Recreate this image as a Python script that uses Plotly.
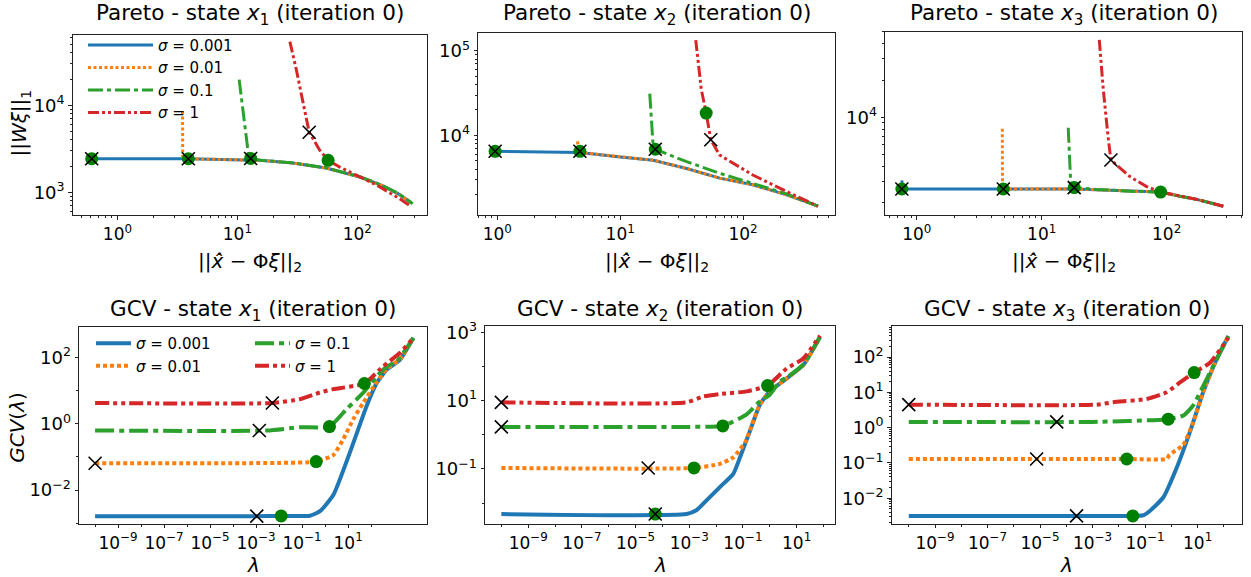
import plotly.graph_objects as go

W, H = 1251, 577
FONT = "DejaVu Sans"
COLORS = ["#1f77b4", "#ff7f0e", "#2ca02c", "#d62728"]
SIGMA_LABELS = ["<i>σ</i> = 0.001", "<i>σ</i> = 0.01", "<i>σ</i> = 0.1", "<i>σ</i> = 1"]

# ---------------- Pareto, state x1 ----------------
PX1_RES_A = [0.56, 0.57, 3.8, 9.2, 15.5, 29, 55, 105, 160, 220, 282]
PX1_L1_A = [2600, 2430, 2430, 2390, 2330, 2170, 1900, 1500, 1200, 960, 760]
PX1_RES_B = [3.49, 3.5, 3.8, 9.2, 15.5, 29, 55, 105, 160, 220, 282]
PX1_L1_B = [8600, 2450, 2430, 2390, 2330, 2170, 1900, 1500, 1200, 960, 760]
PX1_RES_C = [10.35, 12.3, 12.9, 15.5, 29, 55, 105, 160, 220, 290]
PX1_L1_C = [19700, 2880, 2450, 2340, 2180, 1910, 1510, 1210, 970, 740]
PX1_RES_D = [27.4, 31, 35.3, 39.7, 48.7, 57.1, 71.5, 87, 145, 224, 282]
PX1_L1_D = [53700, 25700, 10700, 4900, 3030, 2330, 1950, 1715, 1210, 850, 686]
PX1_DOT_RES = [0.61, 3.9, 12.9, 57.1]
PX1_DOT_L1 = [2430, 2430, 2450, 2330]
PX1_X_RES = [0.61, 3.9, 12.9, 39.7]
PX1_X_L1 = [2430, 2430, 2450, 4900]

# ---------------- Pareto, state x2 ----------------
PX2_RES_A = [0.96, 4.7, 10, 18.6, 34.7, 64.6, 120, 224, 407]
PX2_L1_A = [6500, 6300, 5580, 5100, 4070, 3130, 2610, 2000, 1460]
PX2_RES_B = [4.5, 4.55, 4.7, 10, 18.6, 34.7, 64.6, 120, 224, 407]
PX2_L1_B = [8500, 6600, 6300, 5580, 5100, 4070, 3130, 2610, 2000, 1460]
PX2_RES_C = [17.4, 18.6, 19.3, 34.7, 64.6, 120, 224, 407]
PX2_L1_C = [31200, 7000, 6870, 4900, 3570, 2700, 2050, 1460]
PX2_RES_D = [41.2, 45.7, 50.1, 54.6, 64.6, 88.3, 120, 224, 407]
PX2_L1_D = [134000, 35100, 18400, 8900, 5850, 4470, 3410, 2190, 1460]
PX2_DOT_RES = [0.96, 4.7, 19.3, 50.1]
PX2_DOT_L1 = [6500, 6500, 6870, 18400]
PX2_X_RES = [0.96, 4.7, 19.3, 54.6]
PX2_X_L1 = [6500, 6500, 6870, 8900]

# ---------------- Pareto, state x3 ----------------
PX3_RES_A = [0.76, 0.77, 18.2, 27.5, 50.8, 89.5, 128, 174, 284]
PX3_L1_A = [3050, 2600, 2600, 2565, 2480, 2455, 2265, 2140, 1880]
PX3_RES_B = [4.84, 4.86, 18.2, 27.5, 50.8, 89.5, 128, 174, 284]
PX3_L1_B = [8050, 2600, 2600, 2565, 2480, 2455, 2265, 2140, 1880]
PX3_RES_C = [16.3, 17.1, 18.2, 27.5, 50.8, 89.5, 128, 174, 284]
PX3_L1_C = [8220, 2810, 2670, 2580, 2490, 2455, 2265, 2140, 1880]
PX3_RES_D = [28.9, 31.1, 34.1, 35.8, 50.8, 69.2, 89.5, 128, 174, 284]
PX3_L1_D = [42900, 16900, 6700, 4480, 3280, 2720, 2455, 2265, 2140, 1880]
PX3_DOT_RES = [0.76, 4.93, 18.2, 89.5]
PX3_DOT_L1 = [2600, 2600, 2670, 2455]
PX3_X_RES = [0.76, 4.93, 18.2, 35.8]
PX3_X_L1 = [2600, 2600, 2670, 4480]

# ---------------- GCV, state x1 ----------------
G1_LAM_A = [1e-10, 1e-3, 0.0123, 0.22, 0.6, 2.3, 12.3, 64.6, 178, 479, 1820, 6920]
G1_GCV_A = [0.00162, 0.00163, 0.00165, 0.00168, 0.0023, 0.0072, 0.145, 3.55, 17.4, 43.6, 87, 398]
G1_LAM_B = [1e-10, 0.01, 0.41, 2.3, 6.3, 17, 46.8, 178, 479, 1820, 6920]
G1_GCV_B = [0.0646, 0.066, 0.0724, 0.115, 0.355, 1.41, 4.47, 18.6, 45.7, 91, 398]
G1_LAM_C = [1e-10, 3e-3, 0.081, 1.55, 8.7, 46.8, 178, 479, 1320, 6920]
G1_GCV_C = [0.63, 0.63, 0.79, 0.83, 2.82, 8.9, 27.5, 55, 77.6, 398]
G1_LAM_D = [1e-10, 5.1e-3, 0.081, 0.6, 2.3, 51, 339, 1820, 6920]
G1_GCV_D = [4.27, 4.27, 5.6, 8.9, 11.2, 16.6, 55, 141, 398]
G1_DOT_LAM = [0.0123, 0.41, 1.55, 51]
G1_DOT_GCV = [0.00165, 0.0724, 0.83, 16.6]
G1_X_LAM = [1.07e-3, 1e-10, 1.38e-3, 5.1e-3]
G1_X_GCV = [0.00163, 0.0646, 0.63, 4.27]

# ---------------- GCV, state x2 ----------------
G2_LAM_A = [1e-10, 7.9e-4, 1.9e-3, 4.5e-3, 7.9e-3, 0.0138, 0.0437, 0.078, 0.182, 0.427, 1.0, 4.27, 17.8, 74]
G2_GCV_A = [0.0048, 0.0048, 0.0063, 0.0123, 0.019, 0.0295, 0.072, 0.219, 1.29, 7.6, 18.6, 44.7, 110, 724]
G2_LAM_B = [1e-10, 1.5e-3, 0.0138, 0.0437, 0.126, 0.182, 0.427, 1.0, 4.27, 17.8, 74]
G2_GCV_B = [0.107, 0.107, 0.141, 0.219, 0.63, 1.35, 7.6, 18.6, 44.7, 110, 724]
G2_LAM_C = [1e-10, 1e-3, 0.0178, 0.138, 0.427, 1.0, 2.34, 4.27, 17.8, 74]
G2_GCV_C = [1.7, 1.7, 1.82, 3.98, 9.5, 14.8, 36.3, 47, 115, 724]
G2_LAM_D = [1e-10, 7.9e-4, 3.3e-3, 0.0138, 0.138, 0.83, 4.27, 17.8, 74]
G2_GCV_D = [8.9, 8.9, 13.2, 15.5, 18.6, 27.5, 87, 170, 794]
G2_DOT_LAM = [5.4e-5, 1.5e-3, 0.0178, 0.83]
G2_DOT_GCV = [0.0048, 0.107, 1.82, 27.5]
G2_X_LAM = [5.4e-5, 2.95e-5, 1e-10, 1e-10]
G2_X_GCV = [0.0048, 0.107, 1.7, 8.9]

# ---------------- GCV, state x3 ----------------
G3_LAM_A = [1e-10, 0.034, 0.085, 0.151, 0.49, 1.58, 5.1, 16.2, 52.5, 148]
G3_GCV_A = [0.00316, 0.00316, 0.0033, 0.00437, 0.0105, 0.072, 0.76, 10, 85, 389]
G3_LAM_B = [1e-10, 0.02, 0.66, 0.85, 2.8, 6.8, 16.2, 52.5, 148]
G3_GCV_B = [0.129, 0.129, 0.131, 0.17, 0.32, 1.4, 10, 85, 389]
G3_LAM_C = [1e-10, 1e-3, 0.76, 3.0, 6.8, 21.9, 52.5, 148]
G3_GCV_C = [1.45, 1.45, 1.74, 2.24, 4.27, 23.4, 85, 389]
G3_LAM_D = [1e-10, 1.45e-3, 6.2e-3, 0.115, 0.66, 2.14, 7.4, 29.5, 148]
G3_GCV_D = [4.47, 4.47, 5.25, 6.46, 10, 19, 36.3, 69, 355]
G3_DOT_LAM = [0.034, 0.02, 0.76, 7.4]
G3_DOT_GCV = [0.00316, 0.129, 1.74, 36.3]
G3_X_LAM = [2.45e-4, 7.4e-6, 4.3e-5, 1e-10]
G3_X_GCV = [0.00316, 0.129, 1.45, 4.47]

PARETO = [
    ([PX1_RES_A, PX1_RES_B, PX1_RES_C, PX1_RES_D], [PX1_L1_A, PX1_L1_B, PX1_L1_C, PX1_L1_D],
     PX1_DOT_RES, PX1_DOT_L1, PX1_X_RES, PX1_X_L1),
    ([PX2_RES_A, PX2_RES_B, PX2_RES_C, PX2_RES_D], [PX2_L1_A, PX2_L1_B, PX2_L1_C, PX2_L1_D],
     PX2_DOT_RES, PX2_DOT_L1, PX2_X_RES, PX2_X_L1),
    ([PX3_RES_A, PX3_RES_B, PX3_RES_C, PX3_RES_D], [PX3_L1_A, PX3_L1_B, PX3_L1_C, PX3_L1_D],
     PX3_DOT_RES, PX3_DOT_L1, PX3_X_RES, PX3_X_L1),
]
GCV = [
    ([G1_LAM_A, G1_LAM_B, G1_LAM_C, G1_LAM_D], [G1_GCV_A, G1_GCV_B, G1_GCV_C, G1_GCV_D],
     G1_DOT_LAM, G1_DOT_GCV, G1_X_LAM, G1_X_GCV),
    ([G2_LAM_A, G2_LAM_B, G2_LAM_C, G2_LAM_D], [G2_GCV_A, G2_GCV_B, G2_GCV_C, G2_GCV_D],
     G2_DOT_LAM, G2_DOT_GCV, G2_X_LAM, G2_X_GCV),
    ([G3_LAM_A, G3_LAM_B, G3_LAM_C, G3_LAM_D], [G3_GCV_A, G3_GCV_B, G3_GCV_C, G3_GCV_D],
     G3_DOT_LAM, G3_DOT_GCV, G3_X_LAM, G3_X_GCV),
]

DASH_TOP = ["solid", "3px,2.5px", "15px,4px,4px,4px", "11px,3px,3px,3px,3px,3px"]
DASH_BOT = ["solid", "4px,3px", "19px,5px,5px,5px", "14px,4px,4px,4px,4px,4px"]

fig = go.Figure()


def add_panel(idx, data, dashes, width, legend_names, shape):
    xs, ys, dx, dy, cx, cy = data
    ax = "" if idx == 1 else str(idx)
    for k in range(4):
        leg = legend_names[k] if legend_names else None
        fig.add_trace(go.Scatter(
            x=xs[k], y=ys[k], mode="lines", name=SIGMA_LABELS[k],
            line=dict(color=COLORS[k], width=width, dash=dashes[k], shape=shape,
                      smoothing=0.5 if shape == "spline" else None),
            xaxis="x" + ax, yaxis="y" + ax,
            showlegend=leg is not None, legend=leg if leg else "legend",
            hoverinfo="skip"))
    fig.add_trace(go.Scatter(
        x=dx, y=dy, mode="markers", xaxis="x" + ax, yaxis="y" + ax, showlegend=False,
        marker=dict(color="#008000", size=13, symbol="circle", line=dict(width=0))))
    fig.add_trace(go.Scatter(
        x=cx, y=cy, mode="markers", xaxis="x" + ax, yaxis="y" + ax, showlegend=False,
        marker=dict(color="black", size=13, symbol="x-thin", line=dict(width=1.6, color="black"))))


for i, d in enumerate(PARETO):
    add_panel(i + 1, d, DASH_TOP, 3.0, ["legend"] * 4 if i == 0 else None, "linear")
for i, d in enumerate(GCV):
    add_panel(i + 4, d, DASH_BOT, 4.0,
              ["legend2", "legend2", "legend3", "legend3"] if i == 0 else None, "spline")


def sup(e):
    s = str(e).replace("-", "−")
    return "10<sup>%s</sup>" % s


def decades_minor(lo, hi):
    vals = []
    for e in range(lo, hi + 1):
        for m in range(2, 10):
            vals.append(m * 10.0 ** e)
    return vals


LABEL_SIZE = 20


def axis(domain, rng, majors, minors, anchor, is_x):
    d = dict(type="log", domain=domain, range=rng, anchor=anchor,
             showgrid=False, zeroline=False, showline=True, linecolor="#222",
             linewidth=1, mirror=True, ticks="outside", ticklen=3.5, tickwidth=1,
             tickcolor="#222", tickmode="array",
             tickvals=[10.0 ** e for e in majors], ticktext=[sup(e) for e in majors],
             tickfont=dict(size=17 if is_x else 18, family=FONT, color="black"),
             minor=dict(ticks="outside", ticklen=2, tickwidth=0.8, tickcolor="#222",
                        tickmode="array", tickvals=minors, showgrid=False))
    return d


def px_x(a, b):
    return [a / W, b / W]


def px_y(top, bottom):
    return [1 - bottom / H, 1 - top / H]


XLAB_TOP = "||<i>x̂̇</i> − Φ<i>ξ</i>||<sub>2</sub>"
YLAB_TOP = "||<i>Wξ</i>||<sub>1</sub>"
LAM = "<i>λ</i>"
YLAB_BOT = "<i>GCV</i>(<i>λ</i>)"

dom_x = [px_x(72.7, 427), px_x(478, 835), px_x(885, 1242),
         px_x(79, 427), px_x(485, 835), px_x(891.7, 1242)]
dom_y = [px_y(28, 211), px_y(26, 211), px_y(25, 211),
         px_y(324, 523), px_y(323, 523), px_y(323, 523)]

xr = [[-0.373, 2.581], [-0.157, 2.748], [-0.254, 2.603],
      [-10.7, 4.43], [-10.61, 2.43], [-10.65, 2.69]]
yr = [[2.735, 4.81], [3.055, 5.214], [3.199, 4.699],
      [-3.015, 2.925], [-2.6, 3.18], [-2.72, 2.876]]

x_major_top = [0, 1, 2]
x_minor_top = decades_minor(-1, 2)
x_major_bot = [-9, -7, -5, -3, -1, 1]
x_minor_bot = [10.0 ** e for e in range(-10, 4, 2)]
y_major = [[3, 4], [4, 5], [4], [-2, 0, 2], [-1, 1, 3], [-2, -1, 0, 1, 2]]
y_minor = [decades_minor(2, 4), decades_minor(3, 5), decades_minor(3, 4),
           [10.0 ** e for e in (-3, -1, 1)], [10.0 ** e for e in (-2, 0, 2)],
           decades_minor(-3, 2)]

layout_axes = {}
for i in range(6):
    n = "" if i == 0 else str(i + 1)
    top = i < 3
    layout_axes["xaxis" + n] = axis(dom_x[i], xr[i],
                                    x_major_top if top else x_major_bot,
                                    x_minor_top if top else x_minor_bot,
                                    "y" + n, True)
    layout_axes["yaxis" + n] = axis(dom_y[i], yr[i], y_major[i], y_minor[i], "x" + n, False)

fig.update_layout(**layout_axes)

titles = ["Pareto - state <i>x</i><sub>1</sub> (iteration 0)",
          "Pareto - state <i>x</i><sub>2</sub> (iteration 0)",
          "Pareto - state <i>x</i><sub>3</sub> (iteration 0)",
          "GCV - state <i>x</i><sub>1</sub> (iteration 0)",
          "GCV - state <i>x</i><sub>2</sub> (iteration 0)",
          "GCV - state <i>x</i><sub>3</sub> (iteration 0)"]
title_y = [8, 8, 8, 307, 307, 307]
annotations = []
for i in range(6):
    cx = sum(dom_x[i]) / 2
    annotations.append(dict(text=titles[i], xref="paper", yref="paper",
                            x=cx, y=1 - title_y[i] / H,
                            xanchor="center", yanchor="middle", showarrow=False,
                            font=dict(size=21.5, family=FONT, color="black")))
    # x-axis label
    xl_y = 258 if i < 3 else 565
    annotations.append(dict(text=XLAB_TOP if i < 3 else LAM, xref="paper", yref="paper",
                            x=cx, y=1 - xl_y / H, xanchor="center", yanchor="middle",
                            showarrow=False, borderpad=0,
                            font=dict(size=LABEL_SIZE, family=FONT, color="black")))

annotations.append(dict(text=YLAB_TOP, xref="paper", yref="paper", x=20 / W, y=1 - 118 / H,
                        xanchor="center", yanchor="middle", textangle=-90, showarrow=False,
                        font=dict(size=LABEL_SIZE, family=FONT, color="black")))
annotations.append(dict(text=YLAB_BOT, xref="paper", yref="paper", x=17 / W, y=1 - 426 / H,
                        xanchor="center", yanchor="middle", textangle=-90, showarrow=False,
                        font=dict(size=LABEL_SIZE, family=FONT, color="black")))

leg_common = dict(bgcolor="rgba(255,255,255,0)", borderwidth=0,
                  font=dict(size=15, family=FONT, color="black"),
                  xanchor="left", yanchor="top", orientation="v",
                  tracegroupgap=0)

fig.update_layout(
    width=W, height=H, margin=dict(l=0, r=0, t=0, b=0),
    paper_bgcolor="white", plot_bgcolor="white",
    font=dict(family=FONT, color="black"),
    annotations=annotations,
    legend=dict(x=83 / W, y=1 - 22 / H, itemwidth=65, **leg_common),
    legend2=dict(x=91 / W, y=1 - 324 / H, itemwidth=35, **leg_common),
    legend3=dict(x=250 / W, y=1 - 324 / H, itemwidth=35, **leg_common),
)

fig.write_html("out.html", config={"displayModeBar": False},
               post_script="document.body.style.margin='0px';")
